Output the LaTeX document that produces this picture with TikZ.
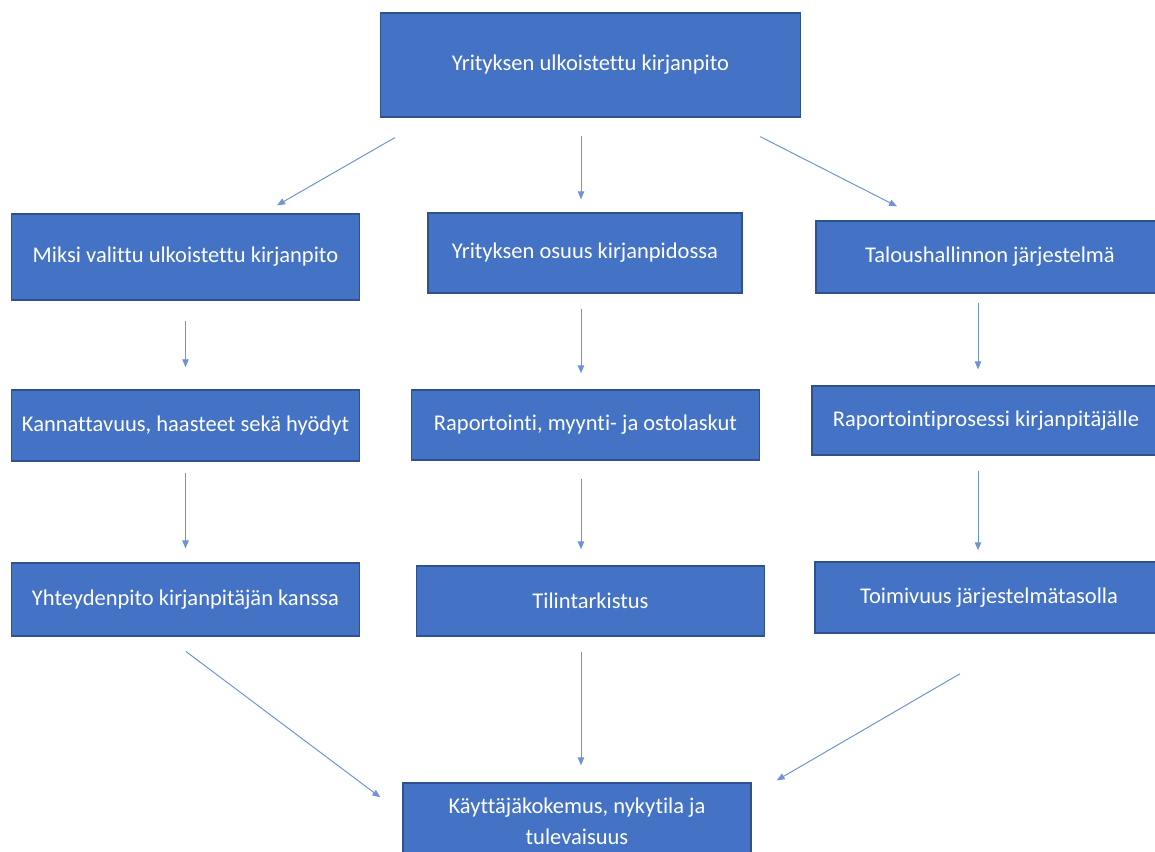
\documentclass[tikz,border=0pt]{standalone}
\usepackage{fontspec}
\setmainfont{Carlito}[Ligatures={NoCommon}]
\usepackage{xcolor}
\definecolor{BoxBlue}{HTML}{4472C4}
\definecolor{BoxEdge}{HTML}{2F528F}
\definecolor{LinkBlue}{HTML}{6F93D3}
\usepackage{tikz}
\usetikzlibrary{arrows.meta, calc}

\begin{document}
\begin{tikzpicture}[
    x=0.025cm, y=-0.025cm,
    >={Triangle[length=2mm, width=1.6mm]},
    box/.style={draw=BoxEdge, line width=0.9pt, fill=BoxBlue, text=white, align=center,
        font=\fontsize{16}{22}\selectfont, inner sep=3pt},
    toprow/.style={box, minimum width=10.5cm, minimum height=2.6cm},
    colbox/.style={box, minimum width=8.7cm},
    arr/.style={->, line width=0.7pt, LinkBlue}
]
\useasboundingbox (0,0) rectangle (1155,852);
\node[toprow] (top) at (590.5,65) {Yrityksen ulkoistettu kirjanpito};
\node[colbox, minimum height=2.15cm] (why) at (185.5,257) {Miksi valittu ulkoistettu kirjanpito};
\node[colbox, minimum width=7.85cm, minimum height=2cm] (share) at (585,253) {Yrityksen osuus kirjanpidossa};
\node[colbox, minimum height=1.8cm] (sys) at (990,257) {Taloushallinnon järjestelmä};
\node[colbox, minimum height=1.78cm] (prof) at (185.5,425.5) {Kannattavuus, haasteet sekä hyödyt};
\node[colbox, minimum height=1.75cm] (rep) at (585.5,425) {Raportointi, myynti- ja ostolaskut};
\node[colbox, minimum height=1.72cm] (proc) at (986,420.5) {Raportointiprosessi kirjanpitäjälle};
\node[colbox, minimum height=1.82cm] (contact) at (185.5,599.5) {Yhteydenpito kirjanpitäjän kanssa};
\node[colbox, minimum height=1.75cm] (audit) at (590.5,601) {Tilintarkistus};
\node[colbox, minimum height=1.78cm] (func) at (989,597.5) {Toimivuus järjestelmätasolla};
\node[colbox, minimum height=1.9cm] (exp) at (577,821) {Käyttäjäkokemus, nykytila ja\\tulevaisuus};
\draw[arr] ($(top.south west)+(15,20)$) -- ($(why.north)+(91.5,-8)$);
\draw[arr] ($(top.south)+(-9.5,18)$) -- ($(share.north)+(-4,-13)$);
\draw[arr] ($(top.south east)+(-41,19)$) -- ($(sys.north)+(-93,-14)$);
\draw[arr] ($(why.south)+(0,20)$) -- ($(prof.north)+(0,-22)$);
\draw[arr] ($(prof.south)+(0,11)$) -- ($(contact.north)+(0,-14)$);
\draw[arr] ($(share.south)+(-4,15)$) -- ($(rep.north)+(-4.5,-16)$);
\draw[arr] ($(rep.south)+(-4.5,18)$) -- ($(audit.north)+(-9.5,-16)$);
\draw[arr] ($(sys.south)+(-12,9)$) -- ($(proc.north)+(-8,-16)$);
\draw[arr] ($(proc.south)+(-8,15)$) -- ($(func.north)+(-11,-11)$);
\draw[arr] ($(contact.south)+(0.5,15)$) -- ($(exp.north west)+(-22,15)$);
\draw[arr] ($(audit.south)+(-9.5,15)$) -- ($(exp.north)+(4,-17)$);
\draw[arr] ($(func.south)+(-29,40)$) -- ($(exp.north east)+(25,-2)$);
\end{tikzpicture}
\end{document}
